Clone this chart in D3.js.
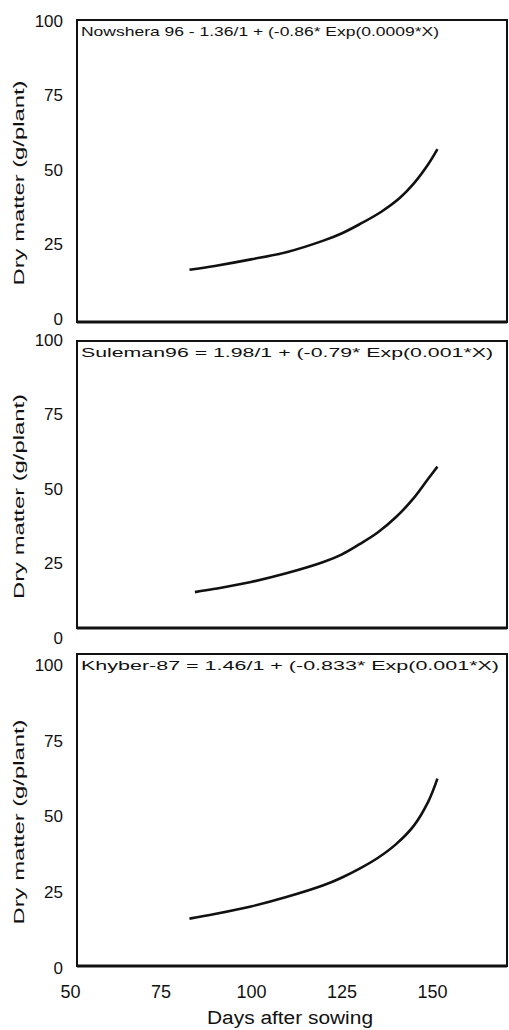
<!DOCTYPE html>
<html>
<head>
<meta charset="utf-8">
<script src="https://cdn.jsdelivr.net/npm/d3@7"></script>
<style>
  body { margin: 0; background: #fff; }
  svg { display: block; }
  text { font-family: "Liberation Sans", Arial, sans-serif; fill: #111; }
</style>
</head>
<body>
<div id="chart"></div>
<script>
// values (days after sowing, dry matter g/plant)
var nowsheraDays = [83, 90, 100, 110, 120, 125, 130, 136, 141, 145, 149, 151.5];
var nowsheraDM   = [16.5, 17.8, 20, 22.5, 26.3, 28.7, 31.8, 36, 40.5, 45.5, 52, 57];

var sulemanDays = [84.5, 90, 100, 110, 120, 125, 130, 135, 140, 145, 149, 151.5];
var sulemanDM   = [15.4, 16.5, 18.8, 21.8, 25.5, 28, 31.5, 35.4, 40.5, 47, 53.5, 57.5];

var khyberDays = [83, 90, 100, 110, 120, 125, 130, 135, 140, 145, 149, 151.5];
var khyberDM   = [16.3, 17.8, 20.3, 23.5, 27.3, 29.8, 32.8, 36.3, 40.8, 47, 55, 62.5];

var equations = [
    "Nowshera 96 - 1.36/1 + (-0.86* Exp(0.0009*X)",
    "Suleman96 =  1.98/1 + (-0.79* Exp(0.001*X)",
    "Khyber-87 =  1.46/1 + (-0.833*  Exp(0.001*X)"
];
var yTicks = [0, 25, 50, 75, 100];
var xTicks = [50, 75, 100, 125, 150];

function toPoints(days, vals) {
    return days.map(function(d, i) { return {x: d, y: vals[i]}; });
}
var series = [
    toPoints(nowsheraDays, nowsheraDM),
    toPoints(sulemanDays, sulemanDM),
    toPoints(khyberDays, khyberDM)
];

var width = 509, height = 1030;
var frameLeft = 77, frameRight = 507;
// per panel: label positions of 0 and 100, and the frame box
var panels = [
    {y0: 319, y100: 21,  top: 20,  bottom: 322, eqLen: 358},
    {y0: 638, y100: 340, top: 341, bottom: 628, eqLen: 412},
    {y0: 968, y100: 665, top: 654, bottom: 966, eqLen: 418}
];

var x = d3.scaleLinear().domain([50, 150]).range([70, 432]);

var svg = d3.select("#chart").append("svg")
    .attr("width", width)
    .attr("height", height);

panels.forEach(function(p, i) {
    var y = d3.scaleLinear().domain([0, 100]).range([p.y0, p.y100]);

    var line = d3.line()
        .x(function(d) { return x(d.x); })
        .y(function(d) { return y(d.y); })
        .curve(d3.curveCatmullRom);

    // frame
    svg.append("rect")
        .attr("x", frameLeft)
        .attr("y", p.top)
        .attr("width", frameRight - frameLeft)
        .attr("height", p.bottom - p.top)
        .attr("fill", "none")
        .attr("stroke", "#111")
        .attr("stroke-width", 2);
    svg.append("line")
        .attr("x1", frameLeft).attr("x2", frameRight)
        .attr("y1", p.bottom).attr("y2", p.bottom)
        .attr("stroke", "#111").attr("stroke-width", 3);

    // y axis labels
    var yAxis = svg.append("g")
        .attr("transform", "translate(" + frameLeft + ",0)")
        .call(d3.axisLeft(y).tickValues(yTicks).tickSize(0).tickPadding(14));
    yAxis.select(".domain").remove();
    yAxis.selectAll("text")
        .style("font-size", "17px")
        .style("font-family", "'Liberation Sans', Arial, sans-serif")
        .attr("fill", "#111");

    // y title
    svg.append("text")
        .attr("transform", "translate(24," + ((p.top + p.bottom) / 2 + 12) + ") rotate(-90)")
        .attr("text-anchor", "middle")
        .attr("textLength", 205)
        .attr("lengthAdjust", "spacingAndGlyphs")
        .style("font-size", "15px")
        .text("Dry matter (g/plant)");

    // equation
    svg.append("text")
        .attr("x", 81)
        .attr("y", p.top + 16)
        .attr("textLength", p.eqLen)
        .attr("lengthAdjust", "spacingAndGlyphs")
        .style("font-size", "13px")
        .text(equations[i]);

    // curve
    svg.append("path")
        .datum(series[i])
        .attr("d", line)
        .attr("fill", "none")
        .attr("stroke", "#111")
        .attr("stroke-width", 2.6);
});

// x axis
var xAxis = svg.append("g")
    .attr("transform", "translate(0," + panels[2].bottom + ")")
    .call(d3.axisBottom(x).tickValues(xTicks).tickSize(0).tickPadding(19));
xAxis.select(".domain").remove();
xAxis.selectAll("text")
    .style("font-size", "18px")
    .style("font-family", "'Liberation Sans', Arial, sans-serif")
    .attr("fill", "#111");

svg.append("text")
    .attr("x", 290)
    .attr("y", 1024)
    .attr("text-anchor", "middle")
    .attr("textLength", 166)
    .attr("lengthAdjust", "spacingAndGlyphs")
    .style("font-size", "18px")
    .text("Days after sowing");
</script>
</body>
</html>
